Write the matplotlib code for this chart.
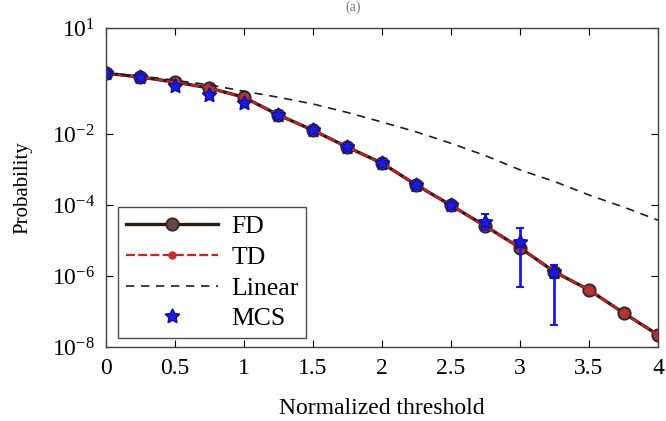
import numpy as np
import matplotlib

matplotlib.use("Agg")
import matplotlib.pyplot as plt

plt.rcParams.update({
    "font.family": "Liberation Serif",
    "mathtext.fontset": "custom",
    "mathtext.rm": "Liberation Serif",
    "mathtext.it": "Liberation Serif:italic",
    "font.size": 17,
})

# normalized threshold grid
thr = np.arange(0, 4.01, 0.25)
# log10 of probabilities
fd_log = [-0.27, -0.38, -0.52, -0.69, -0.95, -1.45, -1.88, -2.36, -2.81,
          -3.43, -4.00, -4.59, -5.20, -5.88, -6.39, -7.04, -7.66]
td_log = fd_log
lin_log = [-0.27, -0.35, -0.47, -0.60, -0.78, -0.95, -1.14, -1.38, -1.65,
           -1.93, -2.25, -2.60, -3.00, -3.33, -3.71, -4.05, -4.42]

mcs_thr = thr[:14]
mcs_log = [-0.27, -0.38, -0.64, -0.89, -1.12, -1.45, -1.88, -2.36, -2.81,
           -3.43, -4.00, -4.47, -5.04, -5.88]
mcs_lo_log = [-0.27, -0.38, -0.64, -0.89, -1.12, -1.45, -1.88, -2.36, -2.81,
              -3.43, -4.05, -4.70, -6.31, -7.38]
mcs_hi_log = [-0.27, -0.38, -0.64, -0.89, -1.12, -1.45, -1.88, -2.36, -2.81,
              -3.43, -3.95, -4.25, -4.64, -5.70]

fd = 10.0 ** np.array(fd_log)
td = 10.0 ** np.array(td_log)
lin = 10.0 ** np.array(lin_log)
mcs = 10.0 ** np.array(mcs_log)
mcs_lo = 10.0 ** np.array(mcs_lo_log)
mcs_hi = 10.0 ** np.array(mcs_hi_log)

fig = plt.figure(figsize=(6.66, 4.21), dpi=100)
ax = fig.add_axes([0.159, 0.176, 0.829, 0.757])

ax.plot(thr, fd, "-o", color="#2a1a1a", lw=2.4, ms=9,
        mfc="#6a4545", mec="#3a2020", mew=1.2, label="FD")
ax.plot(thr, td, "--o", color="#d02020", lw=1.6, ms=5, dashes=(4, 1.5),
        mfc="#c03030", mec="#c03030", label="TD")
ax.plot(thr, lin, "--", color="#202020", lw=1.2, dashes=(5, 4), label="Linear")
ax.errorbar(mcs_thr, mcs, yerr=[mcs - mcs_lo, mcs_hi - mcs],
            fmt="none", ecolor="#1a1ae0", elinewidth=2, capsize=3, capthick=1.5)
ax.plot(mcs_thr, mcs, ls="none", marker=(5, 1, 0), ms=11,
        mfc="#1c1cd8", mec="#10109a", mew=1, label="MCS")

ax.set_yscale("log")
ax.set_xlim(0, 4)
ax.set_ylim(1e-8, 1e1)
ax.set_yticks([1e-8, 1e-6, 1e-4, 1e-2, 1e1])
ax.set_yticklabels([r"$10^{-8}$", r"$10^{-6}$", r"$10^{-4}$",
                    r"$10^{-2}$", r"$10^{1}$"])
ax.yaxis.set_minor_locator(matplotlib.ticker.NullLocator())
ax.set_xticks(np.arange(0, 4.01, 0.5))
ax.set_xticklabels(["0", "0.5", "1", "1.5", "2", "2.5", "3", "3.5", "4"])
ax.tick_params(direction="in", top=True, right=True, length=5, width=0.8,
               labelsize=17, pad=8)
for s in ax.spines.values():
    s.set_linewidth(1.0)
    s.set_color("0.25")

ax.set_xlabel("Normalized threshold", fontsize=17, labelpad=14)
ax.set_ylabel("Probability", fontsize=15, labelpad=14)

leg = ax.legend(loc="lower left", bbox_to_anchor=(0.022, 0.028),
                borderaxespad=0.0,
                fancybox=False, edgecolor="0.3", framealpha=1,
                handlelength=3.6, handletextpad=0.5, labelspacing=0.3,
                borderpad=0.3, fontsize=18.5)
leg.get_frame().set_linewidth(1.0)

fig.text(0.53, 0.998, "(a)", ha="center", va="top", fontsize=10,
         color="0.45")

fig.savefig("out.png", dpi=100)
